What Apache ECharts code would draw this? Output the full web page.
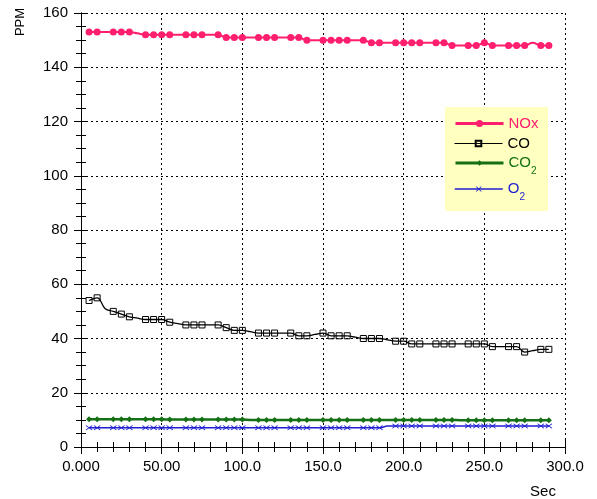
<!DOCTYPE html>
<html>
<head>
<meta charset="utf-8">
<script src="https://cdn.jsdelivr.net/npm/echarts@6/dist/echarts.min.js"></script>
<style>html,body{margin:0;padding:0;background:#fff}#c{width:597px;height:499px}</style>
</head>
<body>
<div id="c"></div>
<script>
const times = [5,10,15,20,25,30,35,40,45,50,55,60,65,70,75,80,85,90,95,100,105,110,115,120,125,130,135,140,145,150,155,160,165,170,175,180,185,190,195,200,205,210,215,220,225,230,235,240,245,250,255,260,265,270,275,280,285,290];
const unmarkedTimes = [15,35,60,80,105,125,145,170,190,215,235,260,280];
const noxValues = [153,153,153,153,153,153,152.5,152,152,152,152,152,152,152,152,152,152,151,151,151,151,151,151,151,151,151,151,150,150,150,150,150,150,150,150,149,149,149,149,149,149,149,149,149,149,148,148,148,148,149,148,148,148,148,148,149,148,148];
const coValues = [54,55,51,50,49,48,47.5,47,47,47,46,45.5,45,45,45,45,45,44,43,43,42.5,42,42,42,42,42,41,41,41.5,42,41,41,41,40.5,40,40,40,39.5,39,39,38,38,38,38,38,38,38,38,38,38,37,37,37,37,35,35.5,36,36];
const co2Values = [10.2,10.2,10.2,10.2,10.2,10.2,10.2,10.2,10.2,10.2,10.1,10.1,10.1,10.1,10.1,10.1,10.1,10.1,10.1,10.1,10,10,10,10,10,10,10,10,10,10,10,10,10,10,10,10,10,10,10,10,10,10,10,10,10,10,9.9,9.9,9.9,9.9,9.9,9.9,9.9,9.9,9.9,9.9,9.9,9.9];
const o2Values = [7.1,7.1,7.1,7.1,7.1,7.1,7.1,7.1,7.1,7.1,7.1,7.1,7.1,7.1,7.1,7.1,7.1,7.1,7.1,7.1,7.1,7.1,7.1,7.1,7.1,7.1,7.1,7.1,7.1,7.1,7.1,7.1,7.1,7.1,7.1,7.1,7.1,7.7,7.7,7.7,7.7,7.7,7.7,7.7,7.7,7.7,7.7,7.7,7.7,7.7,7.7,7.7,7.7,7.7,7.7,7.7,7.7,7.7];
const xTickLabels = ['0.000','50.00','100.0','150.0','200.0','250.0','300.0'];
const yTickLabels = ['0','20','40','60','80','100','120','140','160'];
const seriesNames = ['NOx','CO','CO2','O2'];

const FONT = 'Liberation Sans, Arial, sans-serif';
const C_NOX = '#ff1f6e', C_CO = '#000000', C_CO2 = '#157015', C_O2 = '#1e1ed2';

function build(vals) {
  return times.map((t, i) => {
    const item = { value: [t, vals[i]] };
    if (unmarkedTimes.includes(t)) item.symbol = 'none';
    return item;
  });
}
const xShape = 'path://M0,1L1,0L5,4L9,0L10,1L6,5L10,9L9,10L5,6L1,10L0,9L4,5Z';

const axisCommon = {
  axisLine: { show: true, lineStyle: { color: '#000', width: 1 } },
  axisTick: { show: true, inside: true, length: 7, lineStyle: { color: '#000' } }
};
const xMinor = { minorTick: { show: true, splitNumber: 5, length: 5, lineStyle: { color: '#000' } } };
const yMinor = { minorTick: { show: true, splitNumber: 4, length: 5, lineStyle: { color: '#000' } } };

const rich = {
  nox: { color: C_NOX, fontSize: 15, fontFamily: FONT },
  co: { color: C_CO, fontSize: 15, fontFamily: FONT },
  co2: { color: C_CO2, fontSize: 15, fontFamily: FONT },
  co2s: { color: C_CO2, fontSize: 10, lineHeight: 8, padding: [16, 0, 0, 0], fontFamily: FONT },
  o2: { color: C_O2, fontSize: 15, fontFamily: FONT },
  o2s: { color: C_O2, fontSize: 10, lineHeight: 8, padding: [16, 0, 0, 0], fontFamily: FONT }
};
function legendFor(name, top, lineWidth, iconH) {
  return {
    orient: 'vertical', left: 454, top: top, padding: 0, itemGap: 0,
    itemWidth: 48, itemHeight: iconH, z: 10,
    data: [name],
    lineStyle: { width: lineWidth },
    formatter: function (n) {
      if (n === 'NOx') return '{nox|NOx}';
      if (n === 'CO') return '{co|CO}';
      if (n === 'CO2') return '{co2|CO}{co2s|2}';
      return '{o2|O}{o2s|2}';
    },
    textStyle: { fontFamily: FONT, fontSize: 15, rich: rich }
  };
}

const chart = echarts.init(document.getElementById('c'), null, { renderer: 'canvas' });
chart.setOption({
  animation: false,
  backgroundColor: '#fff',
  textStyle: { fontFamily: FONT },
  grid: { left: 81, right: 32, top: 13, bottom: 52, containLabel: false },
  xAxis: [
    Object.assign({
      type: 'value', min: 0, max: 300, interval: 50, position: 'bottom',
      axisLabel: { color: '#000', fontSize: 15, fontFamily: FONT, margin: 12,
        formatter: v => xTickLabels[Math.round(v / 50)] },
      splitLine: { show: true, lineStyle: { color: '#000', type: [2, 3], width: 1 } }
    }, axisCommon, xMinor),
    Object.assign({
      type: 'value', min: 0, max: 300, interval: 50, position: 'top',
      axisLabel: { show: false }, splitLine: { show: false }
    }, axisCommon, xMinor)
  ],
  yAxis: [
    Object.assign({
      type: 'value', min: 0, max: 160, interval: 20, position: 'left',
      axisLabel: { color: '#000', fontSize: 15, fontFamily: FONT, margin: 13,
        formatter: v => yTickLabels[Math.round(v / 20)] },
      splitLine: { show: true, lineStyle: { color: '#000', type: [2, 3], width: 1 } }
    }, axisCommon, yMinor),
    Object.assign({
      type: 'value', min: 0, max: 160, interval: 20, position: 'right',
      axisLabel: { show: false }, splitLine: { show: false }
    }, axisCommon, yMinor)
  ],
  legend: [
    legendFor('NOx', 116, 3, 9),
    legendFor('CO', 136, 1, 7),
    legendFor('CO2', 150, 3, 7),
    legendFor('O2', 176, 1.5, 7)
  ],
  graphic: [
    { type: 'rect', z: 3, shape: { x: 445, y: 107, width: 103, height: 104 }, style: { fill: '#ffffc0' } },
    { type: 'text', x: 20, y: 22, rotation: Math.PI / 2, z: 5,
      style: { text: 'PPM', font: '13px ' + FONT, fill: '#000', align: 'center', verticalAlign: 'middle', textAlign: 'center', textVerticalAlign: 'middle' } },
    { type: 'text', x: 543, y: 492, z: 5,
      style: { text: 'Sec', font: '15px ' + FONT, fill: '#000', align: 'center', verticalAlign: 'middle', textAlign: 'center', textVerticalAlign: 'middle' } }
  ],
  series: [
    { name: 'NOx', type: 'line', data: build(noxValues), smooth: 0.4, symbol: 'circle', symbolSize: 7,
      itemStyle: { color: C_NOX }, lineStyle: { color: C_NOX, width: 2 } },
    { name: 'CO', type: 'line', data: build(coValues), smooth: 0.4, symbol: 'rect', symbolSize: 6,
      itemStyle: { color: 'rgba(255,255,255,0)', borderColor: C_CO, borderWidth: 1 }, lineStyle: { color: C_CO, width: 1.3 } },
    { name: 'CO2', type: 'line', data: build(co2Values), smooth: 0.4, symbol: 'diamond', symbolSize: 6,
      itemStyle: { color: C_CO2 }, lineStyle: { color: C_CO2, width: 2.5 } },
    { name: 'O2', type: 'line', data: build(o2Values), smooth: 0.4, symbol: xShape, symbolSize: [7, 5],
      itemStyle: { color: C_O2 }, lineStyle: { color: C_O2, width: 1.5 } }
  ]
});
</script>
</body>
</html>
